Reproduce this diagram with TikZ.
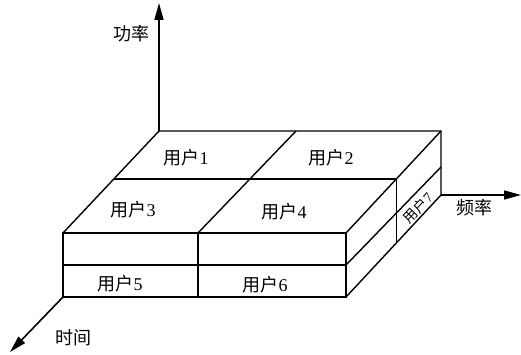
\documentclass[tikz,border=0pt]{standalone}
\usepackage{fontspec}
\setmainfont{Liberation Serif}
\newfontfamily\cjk{Noto Sans CJK SC}
\usetikzlibrary{arrows.meta,calc}
\newcommand{\yonghu}[1]{{\cjk 用户}#1}

\begin{document}
\begin{tikzpicture}[x=1pt,y=-1pt,
	boxline/.style={line width=1.4pt,line join=miter},
	axis/.style={line width=1.6pt,-{Triangle[length=17pt,width=9pt]}},
	lbl/.style={font=\fontsize{18}{18}\selectfont,inner sep=0pt}]
	\useasboundingbox (0,0) rectangle (521,355);

	% corners of the block
	\coordinate (fronttl) at (63,233);
	\coordinate (fronttr) at (346,233);
	\coordinate (frontml) at (63,265);
	\coordinate (frontmr) at (346,265);
	\coordinate (frontbl) at (63,297);
	\coordinate (frontbr) at (346,297);
	\coordinate (backtl) at (159,131);
	\coordinate (backtr) at (441,131);
	\coordinate (backmr) at (441,167);
	\coordinate (backbr) at (441,195);

	% axes
	\coordinate (powertip) at (159,3);
	\coordinate (freqtip) at (521,195);
	\coordinate (timetip) at (10,352);
	\draw[axis] (backtl) -- (powertip);
	\draw[axis] (backbr) -- (freqtip);
	\draw[axis] (frontbl) -- (timetip);

	% block
	\draw[boxline] (frontbl) rectangle (fronttr);
	\draw[boxline] (frontml) -- (frontmr);
	\draw[boxline] (198,233) -- (198,297);
	\draw[boxline] (fronttl) -- (backtl) -- (backtr) -- (backbr) -- (frontbr);
	\draw[boxline] (fronttr) -- (backtr);
	\draw[boxline] (frontmr) -- (backmr);
	\draw[boxline] (296,131) -- (198,233);
	\draw[boxline] ($(fronttl)!0.53!(backtl)$) -- ($(fronttr)!0.53!(backtr)$)
		-- ($(frontbr)!0.53!(backbr)$);

	% users
	\node[lbl] (user1) at (186,158) {\yonghu{1}};
	\node[lbl] (user2) at (331,158) {\yonghu{2}};
	\node[lbl] (user3) at (133,210) {\yonghu{3}};
	\node[lbl] (user4) at (284,212) {\yonghu{4}};
	\node[lbl] (user5) at (120,284) {\yonghu{5}};
	\node[lbl] (user6) at (265,285) {\yonghu{6}};
	\node[lbl,font=\fontsize{14}{14}\selectfont,rotate=47] (user7) at (418,208) {\yonghu{7}};

	% axis labels
	\node[lbl] (power) at (131,34) {\cjk 功率};
	\node[lbl] (freq) at (474,208) {\cjk 频率};
	\node[lbl] (time) at (73,338) {\cjk 时间};
\end{tikzpicture}
\end{document}
